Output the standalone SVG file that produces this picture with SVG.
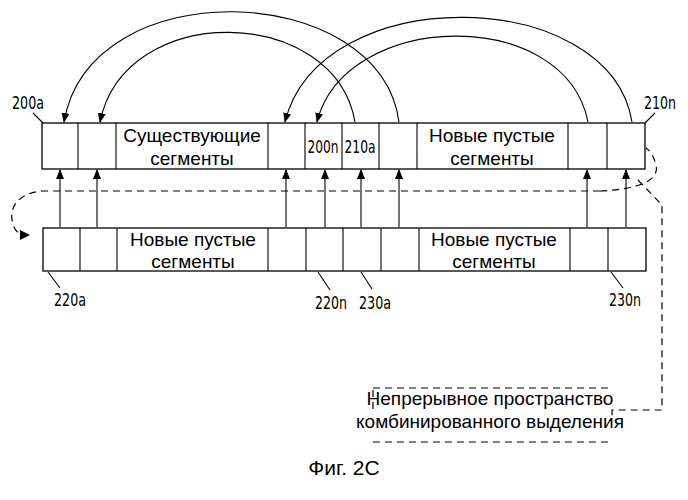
<svg xmlns="http://www.w3.org/2000/svg" width="688" height="500" viewBox="0 0 688 500">
<style>
.b{fill:#fff;stroke:#000;stroke-width:1.3}
.l{fill:none;stroke:#000;stroke-width:1.1}
.d{fill:none;stroke:#000;stroke-width:1.2;stroke-dasharray:7 5}
.t{font-family:"Liberation Sans",Arial,sans-serif;font-size:19px;text-anchor:middle}
.n{font-family:"Liberation Sans Narrow","DejaVu Sans Condensed","Liberation Sans",sans-serif;font-size:17px;text-anchor:middle}
</style>
<defs><marker id="a" markerWidth="10" markerHeight="8" refX="9" refY="4" orient="auto" markerUnits="userSpaceOnUse"><path d="M0,0L10,4L0,8z"/></marker></defs>
<g id="top">
<rect class="b" x="42" y="123" width="603" height="46"/>
<path class="l" d="M78,123V169M116,123V169M268,123V169M305,123V169M342,123V169M379,123V169M417,123V169M568,123V169M607,123V169"/>
<text class="t" x="192" y="142">Существующие</text><text class="t" x="192" y="165">сегменты</text>
<text class="n" x="323" y="153" textLength="31" lengthAdjust="spacingAndGlyphs">200n</text>
<text class="n" x="360" y="153" textLength="31" lengthAdjust="spacingAndGlyphs">210a</text>
<text class="t" x="492" y="142">Новые пустые</text><text class="t" x="492" y="165">сегменты</text>
</g>
<g id="bottom">
<rect class="b" x="43" y="228" width="603" height="43"/>
<path class="l" d="M80,228V271M117,228V271M268,228V271M306,228V271M343,228V271M381,228V271M419,228V271M570,228V271M608,228V271"/>
<text class="t" x="193" y="246">Новые пустые</text><text class="t" x="193" y="268">сегменты</text>
<text class="t" x="494" y="246">Новые пустые</text><text class="t" x="494" y="268">сегменты</text>
</g>
<g id="labels">
<text class="n" x="28" y="109" textLength="32" lengthAdjust="spacingAndGlyphs">200a</text>
<text class="n" x="660" y="109" textLength="32" lengthAdjust="spacingAndGlyphs">210n</text>
<text class="n" x="70" y="306" textLength="32" lengthAdjust="spacingAndGlyphs">220a</text>
<text class="n" x="331" y="309" textLength="32" lengthAdjust="spacingAndGlyphs">220n</text>
<text class="n" x="375" y="309" textLength="32" lengthAdjust="spacingAndGlyphs">230a</text>
<text class="n" x="625" y="306" textLength="32" lengthAdjust="spacingAndGlyphs">230n</text>
<path class="l" d="M33,113L43,123M655,113L645,123M48,272L60,288M318,272L330,290M361,272L372,289M611,272L623,288"/>
</g>
<g id="connectors">
<path class="l" marker-end="url(#a)" d="M399,122C380,-20 90,-30 64,122"/>
<path class="l" marker-end="url(#a)" d="M355,122C335,5 125,0 100,122"/>
<path class="l" marker-end="url(#a)" d="M632,122C610,-15 320,-20 285,122"/>
<path class="l" marker-end="url(#a)" d="M588,122C565,5 345,10 317,122"/>
<path class="l" marker-end="url(#a)" d="M60,227V170"/>
<path class="l" marker-end="url(#a)" d="M97,227V170"/>
<path class="l" marker-end="url(#a)" d="M286,227V170"/>
<path class="l" marker-end="url(#a)" d="M325,227V170"/>
<path class="l" marker-end="url(#a)" d="M361,227V170"/>
<path class="l" marker-end="url(#a)" d="M399,227V170"/>
<path class="l" marker-end="url(#a)" d="M587,227V170"/>
<path class="l" marker-end="url(#a)" d="M626,227V170"/>
<path class="d" d="M600,191H42C20,193 10,205 12,220C14,232 20,235 24,235"/>
<path d="M20,230L30,235L20,240z"/>
<path class="d" d="M600,191C640,189 660,180 656,165C653,154 650,151 646,148"/>
<path class="d" d="M638,180L662,205V410H612V417"/>
</g>
<g id="note">
<path class="d" d="M373,388H610M373,442H610M373,390V410"/>
<text class="t" x="490" y="405">Непрерывное пространство</text>
<text class="t" x="490" y="428">комбинированного выделения</text>
</g>
<text class="t" x="344" y="475" style="font-size:21px">Фиг. 2C</text>
</svg>
